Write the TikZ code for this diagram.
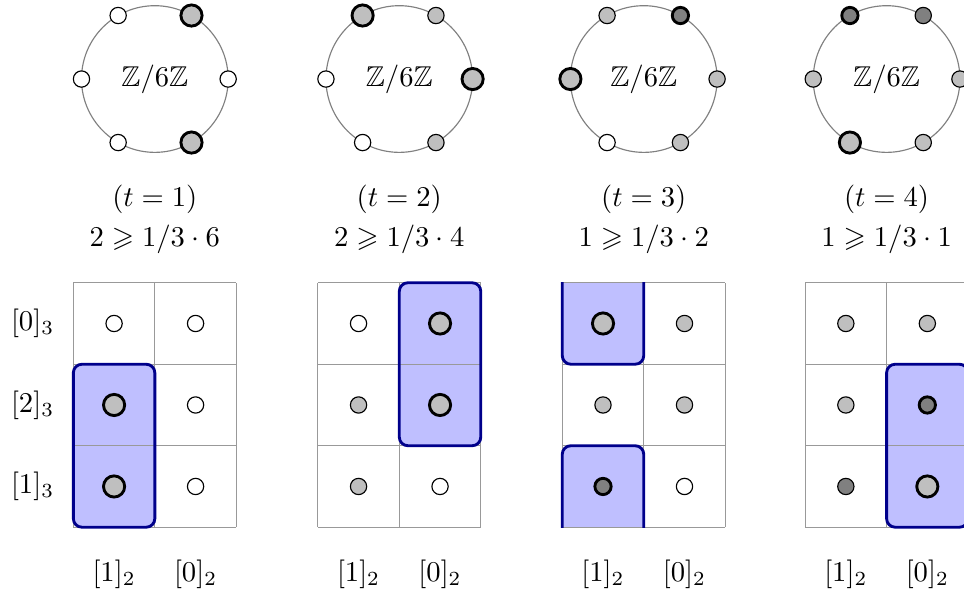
\documentclass[tikz,border=0pt]{standalone}
\usepackage{amssymb}
\usepackage{xcolor}
\definecolor{pickfill}{HTML}{BFBFFF}
\definecolor{pickedge}{HTML}{00008B}

\tikzset{
  ring/.style={draw=black!50,thin},
  boardgrid/.style={draw=black!40,thin},
  dot/.style={circle,draw,thin,inner sep=0pt,minimum size=2mm,fill=white},
  free/.style={dot},
  seen/.style={dot,fill=black!25},
  twice/.style={dot,fill=black!50},
  hit/.style={line width=1pt},
  seenhit/.style={seen,hit,minimum size=2.6mm},
  twicehit/.style={twice,hit},
  pick/.style={fill=pickfill,rounded corners=3pt},
  pickline/.style={draw=pickedge,line width=1pt,rounded corners=3pt},
}

\begin{document}
\begin{tikzpicture}
  \useasboundingbox (0,0) rectangle (11.83,7.25);
  \clip (0,0) rectangle (11.83,7.25);

  % t = 1
  \begin{scope}[xshift=1.9cm]
    \draw[ring] (0,6.28) circle (0.9);
    \node (zz1) at (0,6.28) {$\mathbb{Z}/6\mathbb{Z}$};
    \begin{scope}[shift={(0,6.28)}]
      \foreach \k/\s in {0/free,1/seenhit,2/free,3/free,4/free,5/seenhit}
        \node[\s] (r1-\k) at (60*\k:0.9) {};
    \end{scope}
    \node (t1) at (0,4.80) {$(t=1)$};
    \node (c1) at (0,4.31) {$2 \geqslant 1/3\cdot 6$};
    \begin{scope}[yshift=0.78cm]
      \fill[pick] (-1,0) rectangle (0,2);
      \draw[boardgrid] (-1,0) grid (1,3);
      \draw[pickline] (-1,0) rectangle (0,2);
      \foreach \n/\x/\y/\s in {3/-0.5/2.5/free,0/0.5/2.5/free,
                               5/-0.5/1.5/seenhit,2/0.5/1.5/free,
                               1/-0.5/0.5/seenhit,4/0.5/0.5/free}
        \node[\s] (g1-\n) at (\x,\y) {};
      \node (q0) at (-1.5,2.5) {$[0]_3$};
      \node (q2) at (-1.5,1.5) {$[2]_3$};
      \node (q1) at (-1.5,0.5) {$[1]_3$};
      \node (p1-1) at (-0.5,-0.58) {$[1]_2$};
      \node (p1-0) at (0.5,-0.58) {$[0]_2$};
    \end{scope}
  \end{scope}

  % t = 2
  \begin{scope}[xshift=4.9cm]
    \draw[ring] (0,6.28) circle (0.9);
    \node (zz2) at (0,6.28) {$\mathbb{Z}/6\mathbb{Z}$};
    \begin{scope}[shift={(0,6.28)}]
      \foreach \k/\s in {0/seenhit,1/seen,2/seenhit,3/free,4/free,5/seen}
        \node[\s] (r2-\k) at (60*\k:0.9) {};
    \end{scope}
    \node (t2) at (0,4.80) {$(t=2)$};
    \node (c2) at (0,4.31) {$2 \geqslant 1/3\cdot 4$};
    \begin{scope}[yshift=0.78cm]
      \fill[pick] (0,1) rectangle (1,3);
      \draw[boardgrid] (-1,0) grid (1,3);
      \draw[pickline] (0,1) rectangle (1,3);
      \foreach \n/\x/\y/\s in {3/-0.5/2.5/free,0/0.5/2.5/seenhit,
                               5/-0.5/1.5/seen,2/0.5/1.5/seenhit,
                               1/-0.5/0.5/seen,4/0.5/0.5/free}
        \node[\s] (g2-\n) at (\x,\y) {};
      \node (p2-1) at (-0.5,-0.58) {$[1]_2$};
      \node (p2-0) at (0.5,-0.58) {$[0]_2$};
    \end{scope}
  \end{scope}

  % t = 3 (the chosen pair wraps round the column)
  \begin{scope}[xshift=7.9cm]
    \draw[ring] (0,6.28) circle (0.9);
    \node (zz3) at (0,6.28) {$\mathbb{Z}/6\mathbb{Z}$};
    \begin{scope}[shift={(0,6.28)}]
      \foreach \k/\s in {0/seen,1/twicehit,2/seen,3/seenhit,4/free,5/seen}
        \node[\s] (r3-\k) at (60*\k:0.9) {};
    \end{scope}
    \node (t3) at (0,4.80) {$(t=3)$};
    \node (c3) at (0,4.31) {$1 \geqslant 1/3\cdot 2$};
    \begin{scope}[yshift=0.78cm]
      \begin{scope}
        \clip (-1,0) rectangle (1,3);
        \fill[pick] (-1,-1) rectangle (0,1);
        \fill[pick] (-1,2) rectangle (0,4);
      \end{scope}
      \draw[boardgrid] (-1,0) grid (1,3);
      \begin{scope}
        \clip (-1.1,0) rectangle (1,3);
        \draw[pickline] (-1,-1) rectangle (0,1);
        \draw[pickline] (-1,2) rectangle (0,4);
      \end{scope}
      \foreach \n/\x/\y/\s in {3/-0.5/2.5/seenhit,0/0.5/2.5/seen,
                               5/-0.5/1.5/seen,2/0.5/1.5/seen,
                               1/-0.5/0.5/twicehit,4/0.5/0.5/free}
        \node[\s] (g3-\n) at (\x,\y) {};
      \node (p3-1) at (-0.5,-0.58) {$[1]_2$};
      \node (p3-0) at (0.5,-0.58) {$[0]_2$};
    \end{scope}
  \end{scope}

  % t = 4
  \begin{scope}[xshift=10.88cm]
    \draw[ring] (0,6.28) circle (0.9);
    \node (zz4) at (0,6.28) {$\mathbb{Z}/6\mathbb{Z}$};
    \begin{scope}[shift={(0,6.28)}]
      \foreach \k/\s in {0/seen,1/twice,2/twicehit,3/seen,4/seenhit,5/seen}
        \node[\s] (r4-\k) at (60*\k:0.9) {};
    \end{scope}
    \node (t4) at (0,4.80) {$(t=4)$};
    \node (c4) at (0,4.31) {$1 \geqslant 1/3\cdot 1$};
    \begin{scope}[yshift=0.78cm]
      \fill[pick] (0,0) rectangle (1,2);
      \draw[boardgrid] (-1,0) grid (1,3);
      \draw[pickline] (0,0) rectangle (1,2);
      \foreach \n/\x/\y/\s in {3/-0.5/2.5/seen,0/0.5/2.5/seen,
                               5/-0.5/1.5/seen,2/0.5/1.5/twicehit,
                               1/-0.5/0.5/twice,4/0.5/0.5/seenhit}
        \node[\s] (g4-\n) at (\x,\y) {};
      \node (p4-1) at (-0.5,-0.58) {$[1]_2$};
      \node (p4-0) at (0.5,-0.58) {$[0]_2$};
    \end{scope}
  \end{scope}
\end{tikzpicture}
\end{document}
